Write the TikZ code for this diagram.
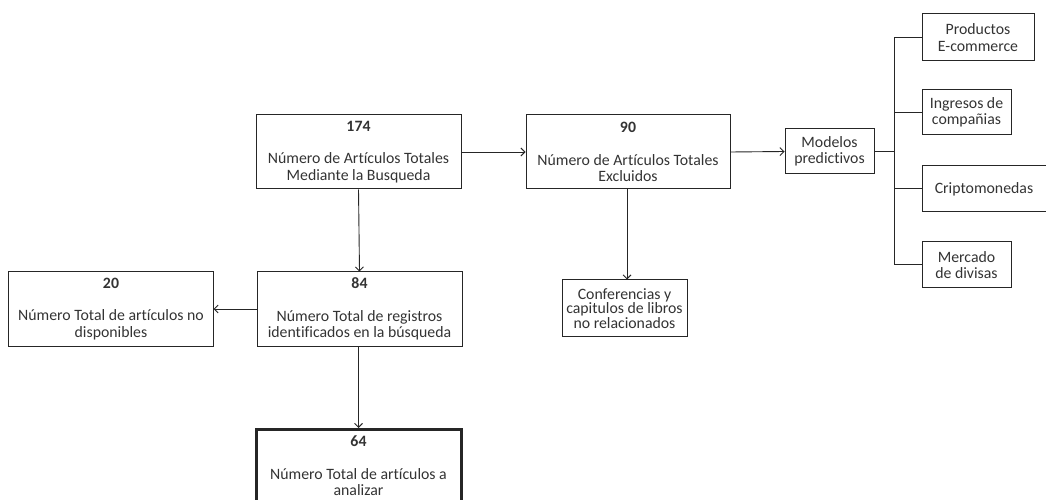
\documentclass[tikz,border=0pt]{standalone}
\usepackage{fontspec}
\setmainfont{Carlito}[Ligatures=CommonOff]
\usetikzlibrary{arrows.meta}
\begin{document}
\begin{tikzpicture}[x=1bp,y=-1bp,
  box/.style={draw=black!85, line width=1bp, minimum width=#1, inner sep=0pt, align=center,
     font=\fontsize{15.8bp}{16.5bp}\selectfont, text=black!80},
  arr/.style={draw=black!85, line width=0.9bp, -{Straight Barb[length=4bp,width=8bp]}},
  ln/.style={draw=black!85, line width=1bp}]
\useasboundingbox (0,0) rectangle (1046,500);
\node[box=205bp, minimum height=74bp] (b174) at (358.5,152) {\textbf{174}\\[16bp]Número de Artículos Totales\\Mediante la Busqueda};
\node[box=204bp, minimum height=74bp] (b90) at (628,152) {\textbf{90}\\[16bp]Número de Artículos Totales\\Excluidos};
\node[box=89bp, minimum height=45bp] (mod) at (829.5,151.5) {Modelos\\predictivos};
\node[box=112bp, minimum height=47bp] (prod) at (978,37.5) {Productos\\E-commerce};
\node[box=89bp, minimum height=45bp] (ing) at (966.5,112.5) {Ingresos de\\compañias};
\node[box=126bp, minimum height=46bp] (cri) at (985,189) {Criptomonedas\hspace*{2bp}};
\node[box=89bp, minimum height=46bp] (mer) at (966.5,265) {Mercado\\de divisas};
\node[box=204bp, minimum height=74bp] (b20) at (111,309) {\textbf{20}\\[16bp]Número Total de artículos no\\disponibles};
\node[box=205bp, minimum height=74bp] (b84) at (359.5,309) {\textbf{84}\\[16bp]Número Total de registros\\identificados en la búsqueda};
\node[box=125bp, minimum height=57bp, font=\fontsize{15.8bp}{14.5bp}\selectfont] (conf) at (624.5,308.5) {Conferencias y\\capitulos de libros\\no relacionados};
\node[box=205bp, minimum height=84bp, line width=3bp, anchor=north, text depth=0pt] (b64) at (358.5,428) {};
\node[font=\fontsize{15.8bp}{16.5bp}\selectfont, text=black!80, align=center, anchor=north, inner sep=0pt] (t64) at (358.5,436) {\textbf{64}\\[16bp]Número Total de artículos a\\analizar};
\coordinate (bt) at (894,37.5);
\coordinate (bb) at (894,265);
\coordinate (bm) at (894,151.5);
\draw[arr] (b174.east) -- (b90.west);
\draw[arr] (b90.east) -- (mod.west);
\draw[arr] (b174.south) -- (b84.north);
\draw[arr] (b84.west) -- (b20.east);
\draw[arr] (b84.south -| b174.south) -- (b64.north);
\draw[arr] ([xshift=-1bp]b90.south) -- ([xshift=-1bp]b90.south |- conf.north);
\draw[ln] (mod.east) -- (bm);
\draw[ln] (bt) -- (bb);
\draw[ln] (bt) -- (prod.west);
\draw[ln] (bt |- ing.west) -- (ing.west);
\draw[ln] (bt |- cri.west) -- (cri.west);
\draw[ln] (bb) -- (mer.west);
\end{tikzpicture}
\end{document}
